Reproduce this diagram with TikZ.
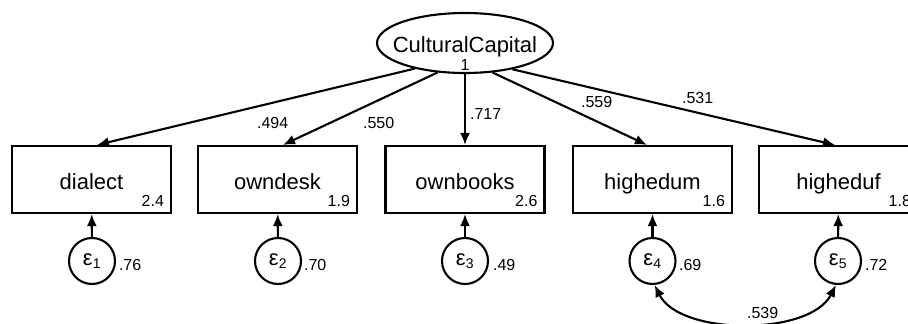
\documentclass[tikz,border=0pt]{standalone}
\usepackage{fontspec}
\setmainfont{Liberation Sans}
\usetikzlibrary{arrows.meta,shapes.geometric}
\begin{document}
\begin{tikzpicture}[x=1pt,y=-1pt,line width=2.1pt,
  obs/.style={draw,rectangle,minimum width=159pt,minimum height=67pt,inner sep=0pt},
  err/.style={draw,circle,minimum size=46pt,inner sep=0pt,font=\fontsize{22}{24}\selectfont},
  lat/.style={draw,ellipse,minimum width=176pt,minimum height=60pt,inner sep=0pt},
  big/.style={font=\fontsize{22}{24}\selectfont,inner sep=0pt,anchor=base},
  small/.style={font=\fontsize{16}{18}\selectfont,inner sep=0pt},
  arr/.style={-{Latex[length=12pt,width=10pt]}},
  darr/.style={{Latex[length=12pt,width=10pt]}-{Latex[length=12pt,width=10pt]}}]
\useasboundingbox (0,0) rectangle (908,324);
\clip (0,0) rectangle (908,324);

% latent
\node[lat] (cc) at (465,43) {};
\node[big] (cct) at (465,52) {CulturalCapital};
\node[small,anchor=base] (ccv) at (465,70) {1};

% observed boxes
\node[obs] (b1) at (91.5,179.5) {};
\node[obs] (b2) at (277.5,179.5) {};
\node[obs] (b3) at (465,179.5) {};
\node[obs] (b4) at (652.5,179.5) {};
\node[obs] (b5) at (838.5,179.5) {};

\node[big] (t1) at (91.5,189) {dialect};
\node[big] (t2) at (277.5,189) {owndesk};
\node[big] (t3) at (465,189) {ownbooks};
\node[big] (t4) at (652.5,189) {highedum};
\node[big] (t5) at (838.5,189) {higheduf};

\node[small,anchor=base east] (v1) at (165,206) {2.4};
\node[small,anchor=base east] (v2) at (351,206) {1.9};
\node[small,anchor=base east] (v3) at (538.5,206) {2.6};
\node[small,anchor=base east] (v4) at (726,206) {1.6};
\node[small,anchor=base east] (v5) at (912,206) {1.8};

% errors
\node[err] (e1) at (92,261) {ε\textsubscript{\fontsize{14}{16}\selectfont 1}};
\node[err] (e2) at (278,261) {ε\textsubscript{\fontsize{14}{16}\selectfont 2}};
\node[err] (e3) at (465,261) {ε\textsubscript{\fontsize{14}{16}\selectfont 3}};
\node[err] (e4) at (652.5,261) {ε\textsubscript{\fontsize{14}{16}\selectfont 4}};
\node[err] (e5) at (838,261) {ε\textsubscript{\fontsize{14}{16}\selectfont 5}};

\node[small,anchor=base west] (ev1) at (118,270) {.76};
\node[small,anchor=base west] (ev2) at (303,270) {.70};
\node[small,anchor=base west] (ev3) at (492,270) {.49};
\node[small,anchor=base west] (ev4) at (678,270) {.69};
\node[small,anchor=base west] (ev5) at (864,270) {.72};

\foreach \i in {1,...,5} \draw[arr] (e\i) -- (b\i);

% loadings
\draw[arr] (cc.207) -- ([xshift=5.5pt]b1.north);
\draw[arr] (cc.227) -- ([xshift=5.5pt]b2.north);
\draw[arr] (cc.270) -- (b3.north);
\draw[arr] (cc.313) -- ([xshift=-5.5pt]b4.north);
\draw[arr] (cc.331) -- ([xshift=-3.5pt]b5.north);

\node[small,anchor=base west] (l1) at (256,128) {.494};
\node[small,anchor=base west] (l2) at (362,128) {.550};
\node[small,anchor=base west] (l3) at (469,119) {.717};
\node[small,anchor=base west] (l4) at (580,107) {.559};
\node[small,anchor=base west] (l5) at (681,103) {.531};

% covariance
\draw[darr] (e4.-85) .. controls (680,336) and (810,336) .. (e5.-95);
\node[small,anchor=base west] (c45) at (746,318) {.539};
\end{tikzpicture}
\end{document}
